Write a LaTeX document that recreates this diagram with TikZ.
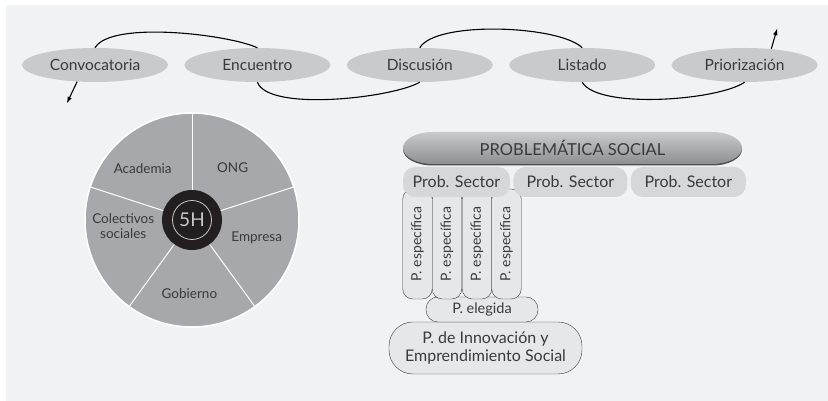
\documentclass[tikz,border=0pt]{standalone}
\usepackage{fontspec}
\setmainfont{Lato}
\usepackage{tikz}
\usetikzlibrary{shapes,arrows,positioning,calc}

\definecolor{bggray}{HTML}{F1F2F4}
\definecolor{ovalgray}{HTML}{C9CACC}
\definecolor{piegray}{HTML}{A7A8AB}
\definecolor{hubblack}{HTML}{231F20}
\definecolor{ringgray}{HTML}{C8C8C8}
\definecolor{sectorgray}{HTML}{D6D7D9}
\definecolor{boxgray}{HTML}{E6E7E9}
\definecolor{txtgray}{HTML}{3A3A3C}
\definecolor{shadowgray}{HTML}{4D4D4F}

\tikzset{
    stage/.style={ellipse, fill=ovalgray, minimum width=146pt, minimum height=34pt, inner sep=0pt, text=txtgray, font=\fontsize{15.5}{18}\selectfont},
    link/.style={line width=1.1pt, looseness=0.5},
    helix/.style={text=txtgray, align=center, font=\fontsize{13.5}{15.5}\selectfont},
    sectorbox/.style={fill=sectorgray, rounded corners=12pt, minimum height=30pt, inner sep=0pt, text=txtgray, font=\fontsize{16}{18}\selectfont},
    specbox/.style={draw=txtgray, fill=boxgray, rounded corners=10pt, minimum width=110pt, minimum height=29.5pt, inner sep=0pt, rotate=90, text=txtgray, font=\fontsize{14}{16}\selectfont},
    roundbox/.style={draw=txtgray, fill=boxgray, inner sep=0pt, align=center, text=txtgray, font=\fontsize{16}{18}\selectfont}
}

\begin{document}
\begin{tikzpicture}[x=1pt,y=1pt]
    \useasboundingbox (0,0) rectangle (828,401);
    \fill[bggray] (6,0) rectangle (828,396);

    % process stages
    \node[stage] (conv) at (95,336) {Convocatoria};
    \node[stage, right=16pt of conv] (enc) {Encuentro};
    \node[stage, right=16pt of enc] (disc) {Discusión};
    \node[stage, right=16pt of disc] (list) {Listado};
    \node[stage, right=16pt of list] (prio) {Priorización};

    \draw[link] (conv.north) to[out=60,in=155] (enc.north);
    \draw[link] (enc.south) to[out=-70,in=-150] (disc.south);
    \draw[link] (disc.north) to[out=60,in=135] (list.north);
    \draw[link] (list.south) to[out=-60,in=-145] (prio.south);

    \coordinate (convout) at (67,298);
    \coordinate (prioout) at (777,372);
    \draw[line width=1.1pt,-latex] (conv.-137) -- (convout);     % arrow leaving Convocatoria
    \draw[line width=1.1pt,-latex] (prio.31) -- (prioout);       % arrow leaving Priorización

    % 5H wheel
    \coordinate (pie) at (192,181);
    \fill[piegray] (pie) circle (107pt);
    \draw[white, line width=1.5pt] (pie) circle (107pt);
    \foreach \ang in {90,18,-54,-126,162}
        \draw[white, line width=1pt] ($(pie)+(\ang:30pt)$) -- ($(pie)+(\ang:107pt)$);
    \foreach \ang/\rad/\name/\txt in {134/71/acad/Academia, 52/66/ong/ONG, -15/67/emp/Empresa, -92/74/gob/Gobierno, 185/69/col/{Colectivos\\sociales}}
        \node[helix] (\name) at ($(pie)+(\ang:\rad pt)$) {\txt};
    \node[circle, fill=hubblack, minimum size=60pt, inner sep=0pt, text=ringgray, font=\fontsize{19}{22}\selectfont] (hub) at (pie) {5H};
    \draw[ringgray, line width=0.8pt] (hub.center) circle (19.5pt);

    % problem tree
    \node[roundbox, rounded corners=24pt, minimum width=193pt, minimum height=52pt] (innov) at (485.5,53) {P. de Innovación y\\Emprendimiento Social};
    \node[roundbox, rounded corners=12pt, minimum width=112pt, minimum height=25pt, font=\fontsize{14.5}{16}\selectfont] (eleg) at (482,91.5) {P. elegida};
    \foreach \i/\x in {1/417.5, 2/447, 3/477, 4/506.5}
        \node[specbox] (spec\i) at (\x,157) {P. específica};
    \node[sectorbox, minimum width=107pt] (sec1) at (456.5,219) {Prob. Sector};
    \node[sectorbox, minimum width=114pt, right=3pt of sec1] (sec2) {Prob. Sector};
    \node[sectorbox, minimum width=115pt, right=3pt of sec2] (sec3) {Prob. Sector};

    \fill[shadowgray] (433,267.5) -- (712,267.5) arc[start angle=90, end angle=-90, x radius=30pt, y radius=16pt] -- (433,235.5) arc[start angle=270, end angle=90, x radius=30pt, y radius=16pt] -- cycle;
    \shade[top color=ovalgray, bottom color=piegray!85!black] (433,269) -- (712,269) arc[start angle=90, end angle=-90, x radius=30pt, y radius=16pt] -- (433,237) arc[start angle=270, end angle=90, x radius=30pt, y radius=16pt] -- cycle;
    \node[text=txtgray, font=\fontsize{16.5}{18}\selectfont] (social) at (572.5,253) {PROBLEMÁTICA SOCIAL};
\end{tikzpicture}
\end{document}
